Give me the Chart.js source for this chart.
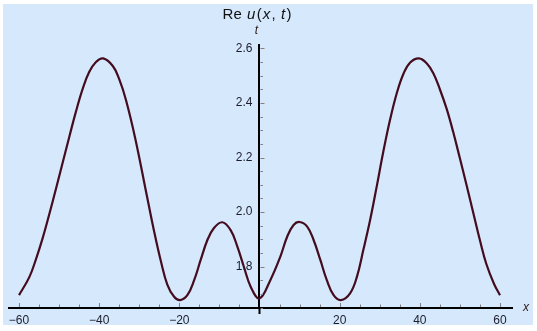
<!DOCTYPE html>
<html>
<head>
<meta charset="utf-8">
<script src="https://cdn.jsdelivr.net/npm/chart.js@4.4.0/dist/chart.umd.min.js"></script>
<style>
  html, body { margin: 0; padding: 0; background: #fff; }
  #wrap { width: 537px; height: 331px; }
</style>
</head>
<body>
<div id="wrap"><canvas id="plot" width="537" height="331"></canvas></div>
<script>
/* Re u(x, t) */
const xValues = [
  -60.0, -57.4, -55.7, -54.1, -52.4, -50.7, -49.1, -47.4, -45.8, -44.1,
  -42.5, -40.8, -39.0, -36.6, -35.0, -33.3, -31.0, -28.1, -26.3, -24.6,
  -23.0, -21.3, -19.8, -18.0, -16.3, -14.7, -13.0, -11.4, -9.3, -7.2,
  -5.5, -3.9, -2.2, 0.0, 2.7, 5.2, 6.9, 8.5, 10.0, 11.9,
  13.5, 15.2, 16.8, 18.5, 20.3, 22.6, 24.3, 25.9, 27.6, 29.3,
  30.9, 32.6, 34.3, 35.9, 37.6, 39.8, 41.7, 43.4, 45.0, 46.7,
  48.3, 50.0, 51.7, 53.3, 55.0, 56.6, 58.5, 60.0
];
const reU = [
  1.696, 1.763, 1.831, 1.905, 1.995, 2.090, 2.182, 2.279, 2.368, 2.452,
  2.513, 2.550, 2.563, 2.535, 2.487, 2.410, 2.270, 2.060, 1.930, 1.820,
  1.735, 1.690, 1.678, 1.696, 1.751, 1.824, 1.898, 1.941, 1.963, 1.934,
  1.873, 1.800, 1.727, 1.684, 1.751, 1.837, 1.910, 1.953, 1.964, 1.947,
  1.898, 1.824, 1.751, 1.696, 1.678, 1.703, 1.763, 1.861, 1.971, 2.098,
  2.222, 2.340, 2.438, 2.506, 2.548, 2.563, 2.545, 2.508, 2.450, 2.378,
  2.295, 2.197, 2.097, 2.000, 1.897, 1.810, 1.738, 1.696
];
const xTickLabels = [-60, -40, -20, 20, 40, 60];
const yTickLabels = [1.8, 2.0, 2.2, 2.4, 2.6];

const X_MIN = -62.5, X_MAX = 63;
const Y_MIN = 1.649, Y_MAX = 2.612;

const points = xValues.map((x, i) => ({ x: x, y: reU[i] }));
const FAMILY = "'Liberation Sans', Arial, sans-serif";
const labelFont = { family: FAMILY, size: 12 };

function fmtNum(v, digits) {
  const s = Math.abs(v).toFixed(digits);
  return v < 0 ? '\u2212' + s : s;
}

function richText(ctx, parts, cx, baseline, size) {
  const gap = 1.2;
  let total = 0;
  parts.forEach(p => {
    ctx.font = (p.i ? 'italic ' : '') + size + 'px ' + FAMILY;
    p.w = ctx.measureText(p.t).width;
    total += p.w;
  });
  total += gap * (parts.length - 1);
  let x = cx - total / 2;
  parts.forEach(p => {
    ctx.font = (p.i ? 'italic ' : '') + size + 'px ' + FAMILY;
    ctx.fillText(p.t, x, baseline);
    x += p.w + gap;
  });
}

const decorations = {
  id: 'decorations',
  beforeDraw(chart) {
    const ctx = chart.ctx;
    ctx.save();
    ctx.fillStyle = '#d6e9fc';
    ctx.fillRect(3, 4, 530, 321);
    ctx.restore();
  },
  afterDraw(chart) {
    const { ctx, scales: { x, y } } = chart;
    const axisX = x.getPixelForValue(0);
    const axisY = y.getPixelForValue(Y_MIN);
    ctx.save();

    // inward tick marks (major longer than minor)
    ctx.strokeStyle = '#808080';
    ctx.lineWidth = 1;
    ctx.beginPath();
    for (let v = -60; v <= 60; v += 5) {
      if (v === 0) continue;
      const px = Math.round(x.getPixelForValue(v)) + 0.5;
      const len = v % 20 === 0 ? 4 : 2.5;
      ctx.moveTo(px, axisY - 1);
      ctx.lineTo(px, axisY - 1 - len);
    }
    for (let k = 0; k <= 19; k++) {
      const v = 1.65 + k * 0.05;
      const py = Math.round(y.getPixelForValue(v)) + 0.5;
      const major = k % 4 === 3;
      ctx.moveTo(axisX + 1, py);
      ctx.lineTo(axisX + 1 + (major ? 4 : 2.5), py);
    }
    ctx.stroke();

    // vertical axis runs a little past the horizontal one
    ctx.strokeStyle = '#000';
    ctx.lineWidth = 2;
    ctx.beginPath();
    ctx.moveTo(axisX, axisY);
    ctx.lineTo(axisX, axisY + 6);
    ctx.stroke();

    // y tick labels, left of the vertical axis
    ctx.fillStyle = '#1c1c2c';
    ctx.font = '12px ' + FAMILY;
    ctx.textAlign = 'right';
    ctx.textBaseline = 'middle';
    yTickLabels.forEach(v => {
      ctx.fillText(fmtNum(v, 1), axisX - 7, y.getPixelForValue(v));
    });

    // title and axis names
    ctx.fillStyle = '#111';
    ctx.textBaseline = 'alphabetic';
    ctx.textAlign = 'left';
    richText(ctx, [
      { t: 'Re ', i: false }, { t: 'u', i: true }, { t: '(', i: false },
      { t: 'x', i: true }, { t: ',', i: false }, { t: ' t', i: true }, { t: ')', i: false }
    ], 257, 19, 15);
    ctx.fillStyle = '#2a1a1a';
    ctx.font = 'italic 12px ' + FAMILY;
    ctx.textAlign = 'center';
    ctx.fillText('t', axisX - 3, 34);
    ctx.fillText('x', 526, 311);
    ctx.restore();
  }
};

new Chart(document.getElementById('plot'), {
  type: 'scatter',
  data: {
    datasets: [{
      data: points,
      showLine: true,
      borderColor: '#440c1e',
      borderWidth: 2.2,
      pointRadius: 0,
      tension: 0.4,
      fill: false
    }]
  },
  options: {
    responsive: false,
    animation: false,
    devicePixelRatio: 1,
    layout: { padding: { left: 9, right: 25, top: 45, bottom: 23 } },
    plugins: { legend: { display: false }, tooltip: { enabled: false }, title: { display: false } },
    scales: {
      x: {
        type: 'linear',
        min: X_MIN,
        max: X_MAX,
        position: { y: Y_MIN },
        afterBuildTicks: scale => { scale.ticks = xTickLabels.map(v => ({ value: v })); },
        grid: { drawOnChartArea: false, drawTicks: false },
        border: { color: '#000', width: 2 },
        ticks: {
          autoSkip: false,
          maxRotation: 0,
          padding: 5,
          color: '#1c1c2c',
          font: labelFont,
          callback: v => fmtNum(v, 0)
        }
      },
      y: {
        type: 'linear',
        min: Y_MIN,
        max: Y_MAX,
        position: { x: 0 },
        afterBuildTicks: scale => { scale.ticks = yTickLabels.map(v => ({ value: v })); },
        grid: { drawOnChartArea: false, drawTicks: false },
        border: { color: '#000', width: 2 },
        ticks: { display: false }
      }
    }
  },
  plugins: [decorations]
});
</script>
</body>
</html>
